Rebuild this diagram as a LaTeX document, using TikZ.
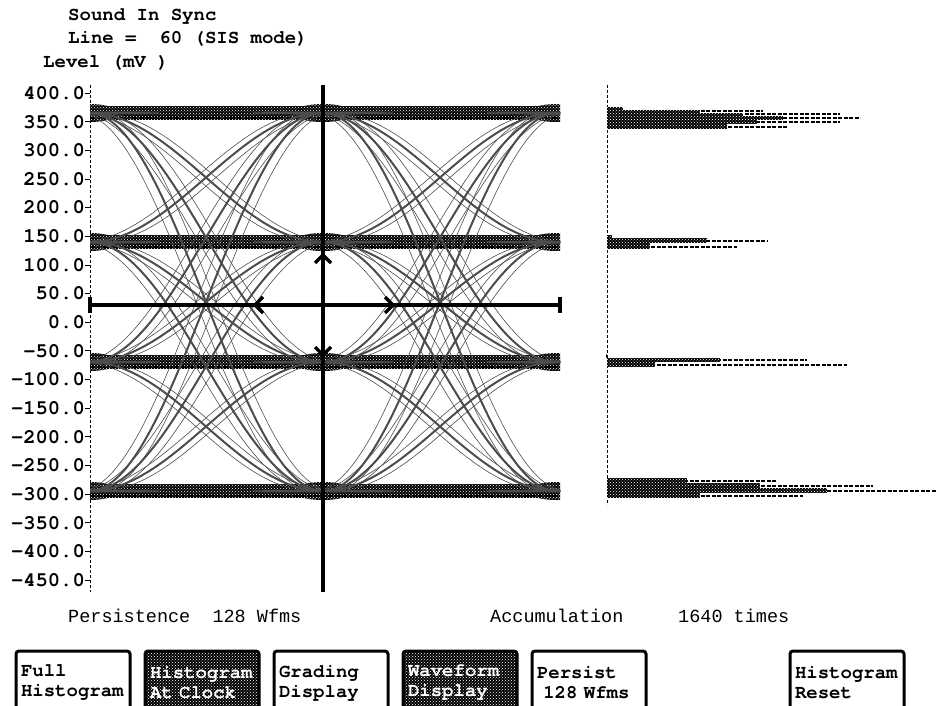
\documentclass[tikz,border=0pt]{standalone}
\usepackage{fontspec}
\setmainfont{Liberation Mono}
\newfontfamily\scopefont{texgyrecursor}[Extension=.otf, UprightFont=*-regular, BoldFont=*-bold]
\usetikzlibrary{patterns,positioning}

\tikzset{
  lbl/.style={font=\scopefont\bfseries\fontsize{19}{19}\selectfont, inner sep=0pt, anchor=base west},
  ylbl/.style={font=\scopefont\bfseries\fontsize{20.5}{20}\selectfont, inner sep=0pt, anchor=east},
  stat/.style={font=\fontsize{18.5}{19}\selectfont, inner sep=0pt, anchor=base west},
  hatch/.style={preaction={fill=black}, pattern=crosshatch dots, pattern color=white},
  trace/.style={black!70, line cap=round},
  histtail/.style={dash pattern=on 4pt off 1.5pt, line width=1.2pt},
  cursor/.style={line width=3.2pt},
  softkey/.style={draw, line width=3pt, rounded corners=3pt, minimum width=114pt, minimum height=64pt,
    text width=104pt, align=left, anchor=north west, inner xsep=5pt,
    font=\scopefont\bfseries\fontsize{19}{20}\selectfont},
  hotkey/.style={softkey, hatch, text=white}
}

\begin{document}
\begin{tikzpicture}[x=1pt,y=-1pt]
\useasboundingbox (0,0) rectangle (936,706);
\clip (0,0) rectangle (936,706);

% header
\node[lbl] (title) at (68,21) {Sound In Sync};
\node[lbl] (line) at (68,44) {Line =~~60 (SIS mode)};
\node[lbl] (unit) at (43,68) {Level (mV )};

% level axis
\draw[densely dashed, line width=0.8pt] (90,85) -- (90,592);
\foreach \v [count=\i from 0] in {400.0,350.0,300.0,250.0,200.0,150.0,100.0,50.0,0.0,-50.0,-100.0,-150.0,-200.0,-250.0,-300.0,-350.0,-400.0,-450.0} {
  \node[ylbl] (y\i) at (85,{93+28.65*\i}) {\v};
  \draw[line width=0.8pt] (85,{93+28.65*\i}) -- (90,{93+28.65*\i});
}

% eye pattern
\begin{scope}
\clip (90,80) rectangle (560,520);
\foreach \ly in {113,242,362,491} {
  \foreach \cx in {89,323,557}
    \fill[hatch] (\cx,\ly) ellipse (30 and 9);
  \fill[hatch] (90,\ly-7) rectangle (560,\ly+7);
  \draw[dash pattern=on 5pt off 2pt, line width=2pt] (90,\ly+5) -- (560,\ly+5);
}
\foreach \xa in {-145,89,323,557}
  \foreach \ya in {113,242,362,491}
    \foreach \yb in {113,242,362,491}
      \foreach \dx/\w in {-10/0.6,0/2,10/0.6} {
        \ifnum\ya=\yb\else
        \draw[trace, line width=\w] ({\xa+\dx-60},\ya) -- ({\xa+\dx},\ya)
          cos ({\xa+\dx+117},{(\ya+\yb)/2}) sin ({\xa+\dx+234},\yb) -- ++(60,0);
        \fi
      }
\end{scope}

% cursors
\coordinate (ctr) at (323,305);
\draw[cursor] (323,85) -- (323,592);
\draw[cursor] (90,305) -- (560,305);
\draw[cursor] (90,297) -- (90,313);
\draw[cursor] (560,297) -- (560,313);
\draw[cursor] (263,297) -- (255,305) -- (263,313);
\draw[cursor] (385,297) -- (393,305) -- (385,313);
\draw[cursor] (315,263) -- (323,255) -- (331,263);
\draw[cursor] (315,347) -- (323,355) -- (331,347);

% histogram
\draw[densely dashed, line width=0.8pt] (607,85) -- (607,505);
\foreach \yy/\xe in {111/763,114/840,118/860,122/840,127/787,
                     241/767,247/737,360/807,365/847,
                     481/777,486/873,491/940,496/803}
  \draw[histtail] (607,\yy) -- (\xe,\yy);
\foreach \ya/\yb/\xe in {107/110/623,110/113/700,113/116/743,116/120/783,120/124/757,124/129/727,
                         235/238/612,238/243/707,243/249/650,
                         354/358/606,358/362/720,362/367/655,
                         478/483/687,483/488/760,488/493/827,493/498/700}
  \fill[hatch] (607,\ya) rectangle (\xe,\yb);

% status line
\node[stat] (persist) at (68,622) {Persistence~~128 Wfms};
\node[stat] (accum) at (490,622) {Accumulation};
\node[stat] (count) at (678,622) {1640 times};

% soft keys
\node[softkey] (kFull) at (14.5,649.5) {Full\\Histogram};
\node[hotkey] (kClock) at (143.5,649.5) {Histogram\\At Clock};
\node[softkey] (kGrade) at (272.5,649.5) {Grading\\Display};
\node[hotkey] (kWave) at (401.5,649.5) {Waveform\\Display};
\node[softkey] (kPersist) at (530.5,649.5) {Persist\\~128 Wfms};
\node[softkey] (kReset) at (788.5,649.5) {Histogram\\Reset};
\end{tikzpicture}
\end{document}
